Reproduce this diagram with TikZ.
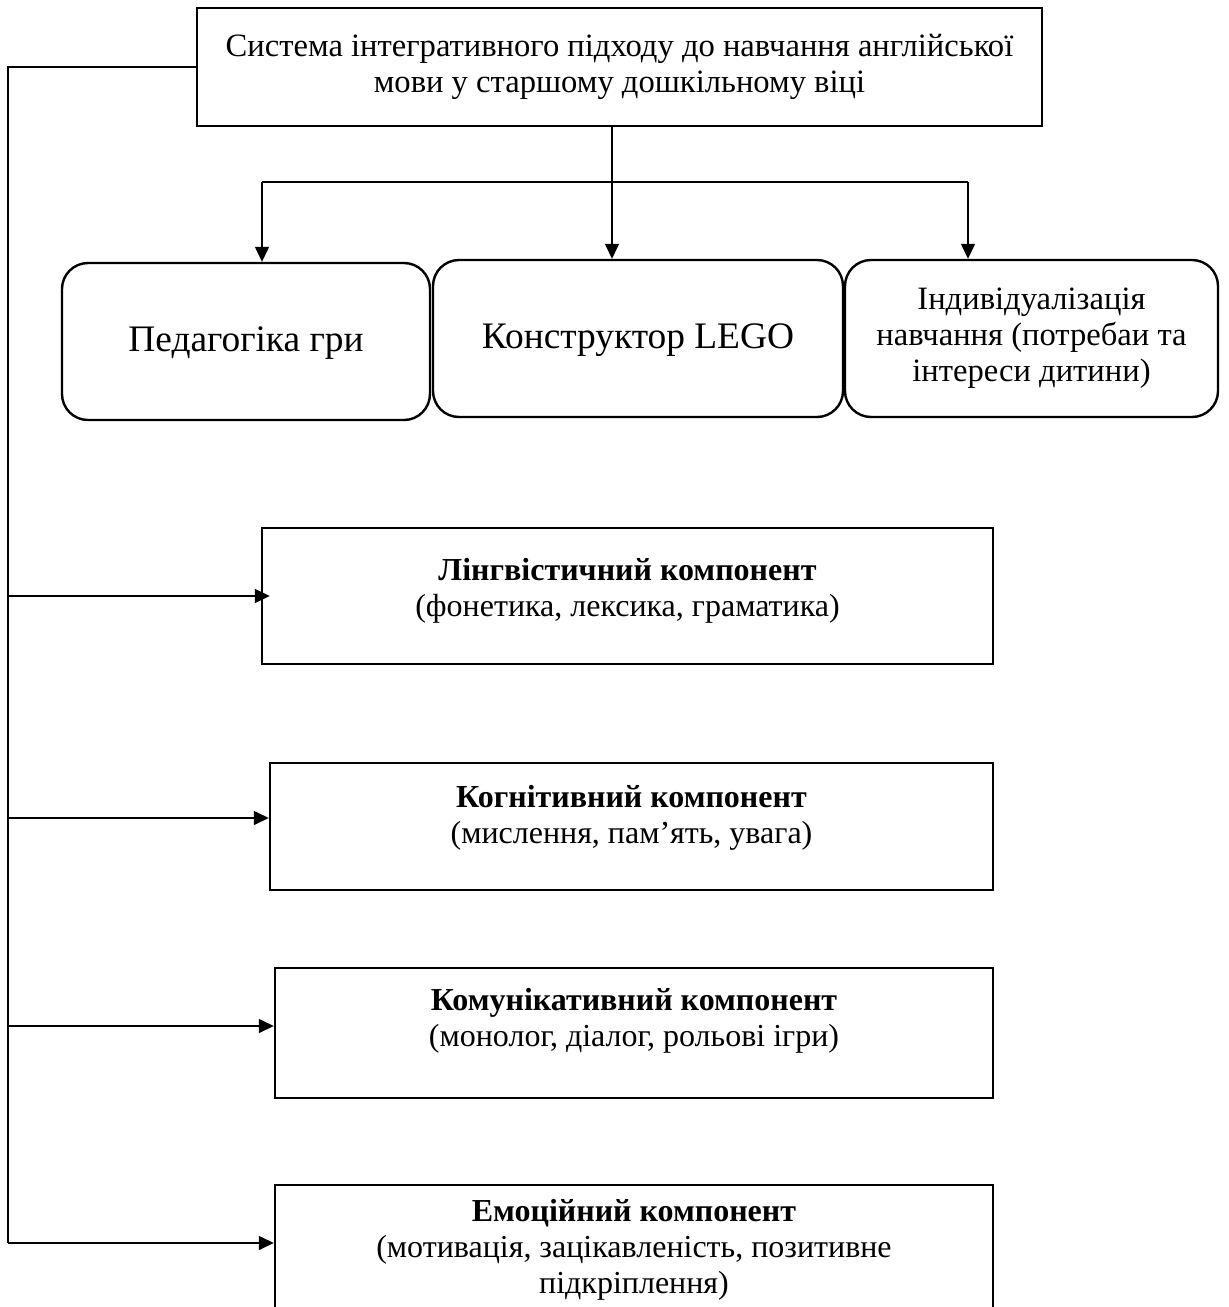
\documentclass[tikz,border=0pt]{standalone}
\usepackage{fontspec}
\setmainfont{Liberation Serif}
\usetikzlibrary{arrows.meta}
\begin{document}
\begin{tikzpicture}[x=0.5pt,y=-0.5pt,
  box/.style={draw, line width=1.2pt, inner sep=0pt, align=center},
  rbox/.style={draw, line width=1.2pt, rounded corners=13pt, align=center, inner sep=0pt},
  txt/.style={align=center, inner sep=0pt},
  mid/.style={font=\fontsize{16.3}{18}\selectfont},
  big/.style={font=\fontsize{18.7}{22}\selectfont, text height=13pt, text depth=3pt},
  comp/.style={font=\fontsize{16}{18}\selectfont},
  conn/.style={line width=0.7pt},
  arr/.style={conn, -{Triangle[length=7.5pt,width=7pt]}}
]
\useasboundingbox (0,0) rectangle (1228,1307);
\clip (0,0) rectangle (1228,1307);
% top box
\node[box, mid, minimum width=422.5pt, minimum height=59pt] (top) at (619.5,67)
  {Система інтегративного підходу до навчання англійської\\мови у старшому дошкільному віці};
% rounded boxes
\node[rbox, big, minimum width=184pt, minimum height=78.5pt] (ped) at (246,341.5) {Педагогіка гри};
\node[rbox, big, minimum width=205pt, minimum height=78.5pt] (lego) at (638,338.5) {Конструктор LEGO};
\node[rbox, mid, minimum width=186.5pt, minimum height=78.5pt] (ind) at (1031.5,338.5)
  {Індивідуалізація\\навчання (потребаи та\\інтереси дитини)};
% component boxes
\node[box, minimum width=365.5pt, minimum height=68pt] (lingbox) at (627.5,596) {};
\node[txt, comp] (ling) at (627.5,591) {\textbf{Лінгвістичний компонент}\\(фонетика, лексика, граматика)};
\node[box, minimum width=361.5pt, minimum height=63.5pt] (kogbox) at (631.5,826.5) {};
\node[txt, comp] (kog) at (631.5,818) {\textbf{Когнітивний компонент}\\(мислення, пам’ять, увага)};
\node[box, minimum width=359pt, minimum height=65pt] (kombox) at (634,1033) {};
\node[txt, comp] (kom) at (634,1021) {\textbf{Комунікативний компонент}\\(монолог, діалог, рольові ігри)};
\node[box, minimum width=359pt, minimum height=65pt] (emobox) at (634,1250) {};
\node[txt, comp] (emo) at (634,1250) {\textbf{Емоційний компонент}\\(мотивація, зацікавленість, позитивне\\підкріплення)};
% top connectors
\coordinate (trunk) at (612,182);
\coordinate (hl) at (262,182);
\coordinate (hr) at (968,182);
\draw[conn] (top.south -| trunk) -- (trunk);
\draw[conn] (hl) -- (hr);
\draw[arr] (hl) -- (hl |- ped.north);
\draw[arr] (trunk) -- (trunk |- lego.north);
\draw[arr] (hr) -- (hr |- ind.north);
% left spine
\coordinate (sp0) at (8,67);
\coordinate (s1) at (8,596);
\coordinate (s2) at (8,818);
\coordinate (s3) at (8,1026);
\coordinate (s4) at (8,1243);
\draw[conn] (top.west) -- (sp0) -- (s4);
\draw[arr, shorten >=-4.5pt] (s1) -- (s1 -| lingbox.west);
\draw[arr] (s2) -- (s2 -| kogbox.west);
\draw[arr] (s3) -- (s3 -| kombox.west);
\draw[arr] (s4) -- (s4 -| emobox.west);
\end{tikzpicture}
\end{document}
